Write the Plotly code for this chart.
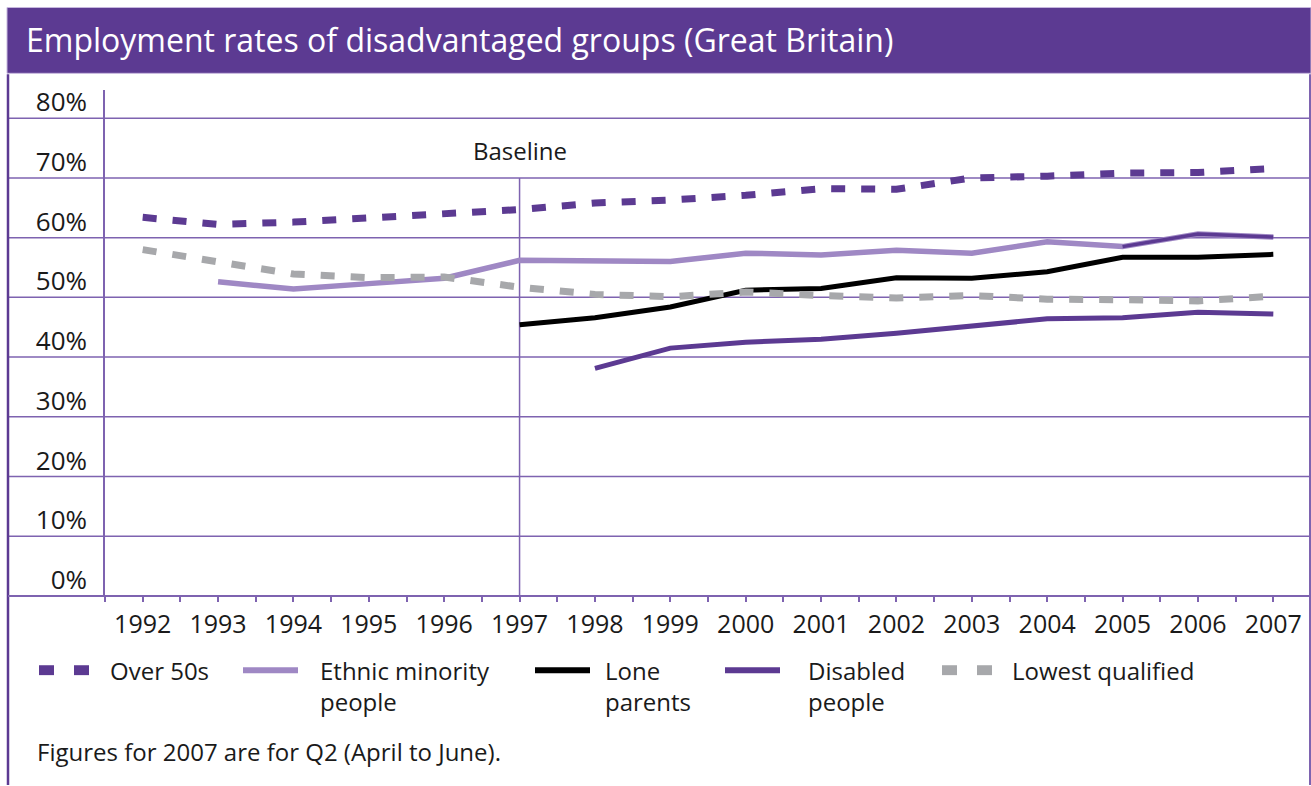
import plotly.graph_objects as go

# ---- data -----------------------------------------------------------------
years = list(range(1992, 2008))
over_50s = [63.4, 62.2, 62.6, 63.3, 63.8, 64.7, 65.8, 66.3, 67.1, 68.2, 68.1, 70.0, 70.3, 70.8, 70.9, 71.6]
ethnic_minority = [None, 52.6, 51.4, 52.3, 53.2, 56.2, 56.2, 56.0, 57.4, 57.1, 57.9, 57.4, 59.3, 58.5, 60.6, 60.1]
lone_parents = [None, None, None, None, None, 45.4, 46.6, 48.4, 51.2, 51.5, 53.3, 53.2, 54.3, 56.7, 56.7, 57.2]
disabled = [None, None, None, None, None, None, 38.1, 41.5, 42.5, 43.0, 44.0, 45.2, 46.4, 46.6, 47.5, 47.2]
lowest_qualified = [58.0, 55.9, 53.9, 53.3, 53.4, 51.7, 50.5, 50.1, 50.9, 50.3, 49.9, 50.3, 49.7, 49.6, 49.4, 50.2]

y_ticks = [0, 10, 20, 30, 40, 50, 60, 70, 80]
y_tick_text = [f"{v}%" for v in y_ticks]
baseline_year = 1997
baseline_top = 70
title = "Employment rates of disadvantaged groups (Great Britain)"
footnote = "Figures for 2007 are for Q2 (April to June)."

# ---- styling --------------------------------------------------------------
W, H = 1311, 786
DARK = "#5C3A92"
LIGHT = "#9F88C4"
GREY = "#A7A8AB"
GRID = "#7E63B0"
TEXT = "#1A1A1A"
FONT = "Open Sans"


def px(x):
    return x / W


def py(y):
    return 1 - y / H


x_dom = [px(105), 1.0]
y_dom = [py(595), py(84)]
y_top = 84.7

fig = go.Figure()

fig.add_trace(go.Scatter(x=years, y=disabled, mode="lines", name="Disabled people",
                         line=dict(color=DARK, width=5)))
fig.add_trace(go.Scatter(x=years, y=lone_parents, mode="lines", name="Lone parents",
                         line=dict(color="black", width=5)))
fig.add_trace(go.Scatter(x=years, y=ethnic_minority, mode="lines", name="Ethnic minority people",
                         line=dict(color=LIGHT, width=5.5)))
# the last stretch of the ethnic minority series is drawn in the darker purple
i05 = years.index(2005)
fig.add_trace(go.Scatter(x=years[i05:], y=ethnic_minority[i05:], mode="lines",
                         name="Ethnic minority people (2005-2007)",
                         line=dict(color=DARK, width=3.5)))
fig.add_trace(go.Scatter(x=years, y=over_50s, mode="lines", name="Over 50s",
                         line=dict(color=DARK, width=7, dash="14px,16px")))
fig.add_trace(go.Scatter(x=years, y=lowest_qualified, mode="lines", name="Lowest qualified",
                         line=dict(color=GREY, width=7, dash="14px,16px")))

shapes = []
# title bar
shapes.append(dict(type="rect", xref="paper", yref="paper", x0=px(7), x1=1.0, y0=py(67), y1=py(0.5),
                   fillcolor=DARK, line=dict(color="#C7B8DE", width=1), layer="below"))
# outer frame
shapes.append(dict(type="line", xref="paper", yref="paper", x0=px(8), x1=px(8), y0=py(68), y1=0,
                   line=dict(color=DARK, width=2.5)))
shapes.append(dict(type="line", xref="paper", yref="paper", x0=px(1310), x1=px(1310), y0=py(68), y1=0,
                   line=dict(color=GRID, width=2)))
# horizontal gridlines running across the full frame
for v in y_ticks[1:]:
    shapes.append(dict(type="line", xref="paper", yref="y", x0=px(8), x1=px(1310), y0=v, y1=v,
                       line=dict(color=GRID, width=1.5), layer="below"))
shapes.append(dict(type="line", xref="paper", yref="paper", x0=px(8), x1=px(1310),
                   y0=y_dom[0], y1=y_dom[0], line=dict(color=GRID, width=2)))
# baseline marker
shapes.append(dict(type="line", xref="x", yref="y", x0=baseline_year, x1=baseline_year,
                   y0=0, y1=baseline_top, line=dict(color=GRID, width=1.5), layer="below"))

annotations = [
    dict(text=title, xref="paper", yref="paper", x=px(24), y=py(33), xanchor="left", yanchor="middle",
         showarrow=False, font=dict(family=FONT, size=32, color="white")),
    dict(text="Baseline", xref="x", yref="paper", x=baseline_year, y=py(145), xanchor="center",
         yanchor="middle", showarrow=False, font=dict(family=FONT, size=24, color=TEXT)),
    dict(text=footnote, xref="paper", yref="paper", x=px(35), y=py(752), xanchor="left",
         yanchor="middle", showarrow=False, font=dict(family=FONT, size=24, color=TEXT)),
]

# legend, laid out in one row below the axis
LEG_Y = 670
legend_items = [
    ("dash", DARK, 39, "Over 50s", 108),
    ("line", LIGHT, 243, "Ethnic minority<br>people", 318),
    ("line", "black", 535, "Lone<br>parents", 603),
    ("line", DARK, 725, "Disabled<br>people", 806),
    ("dash", GREY, 942, "Lowest qualified", 1010),
]
for kind, color, x0, label, tx in legend_items:
    if kind == "dash":
        for k in range(2):
            a = x0 + k * 35
            shapes.append(dict(type="rect", xref="paper", yref="paper", x0=px(a), x1=px(a + 15),
                               y0=py(LEG_Y + 5), y1=py(LEG_Y - 5), fillcolor=color,
                               line=dict(width=0)))
    else:
        shapes.append(dict(type="line", xref="paper", yref="paper", x0=px(x0), x1=px(x0 + 55),
                           y0=py(LEG_Y), y1=py(LEG_Y), line=dict(color=color, width=6)))
    annotations.append(dict(text=label, xref="paper", yref="paper", x=px(tx), y=py(LEG_Y - 18),
                            xanchor="left", yanchor="top", align="left", showarrow=False,
                            font=dict(family=FONT, size=24, color=TEXT)))

half_steps = sorted([y - 0.5 for y in years] + [years[-1] + 0.5] + years)
tick_text = [str(int(v)) if float(v).is_integer() else "" for v in half_steps]

fig.update_layout(
    width=W, height=H, autosize=False,
    margin=dict(l=0, r=0, t=0, b=0),
    paper_bgcolor="white", plot_bgcolor="white",
    showlegend=False,
    font=dict(family=FONT, color=TEXT),
    shapes=shapes, annotations=annotations,
    xaxis=dict(domain=x_dom, range=[years[0] - 0.5, years[-1] + 0.5], showgrid=False, zeroline=False,
               showline=False, tickmode="array", tickvals=half_steps, ticktext=tick_text,
               ticks="outside", ticklen=5, tickwidth=1.5, tickcolor=GRID,
               tickfont=dict(family=FONT, size=25, color=TEXT), ticklabelstandoff=1),
    yaxis=dict(domain=y_dom, range=[0, y_top], showgrid=False, zeroline=False,
               showline=True, linecolor=GRID, linewidth=1.5,
               tickmode="array", tickvals=y_ticks, ticktext=y_tick_text, ticks="",
               tickfont=dict(family=FONT, size=26, color=TEXT),
               ticklabelstandoff=11, ticklabelshift=-16),
)

fig.write_html("out.html")
